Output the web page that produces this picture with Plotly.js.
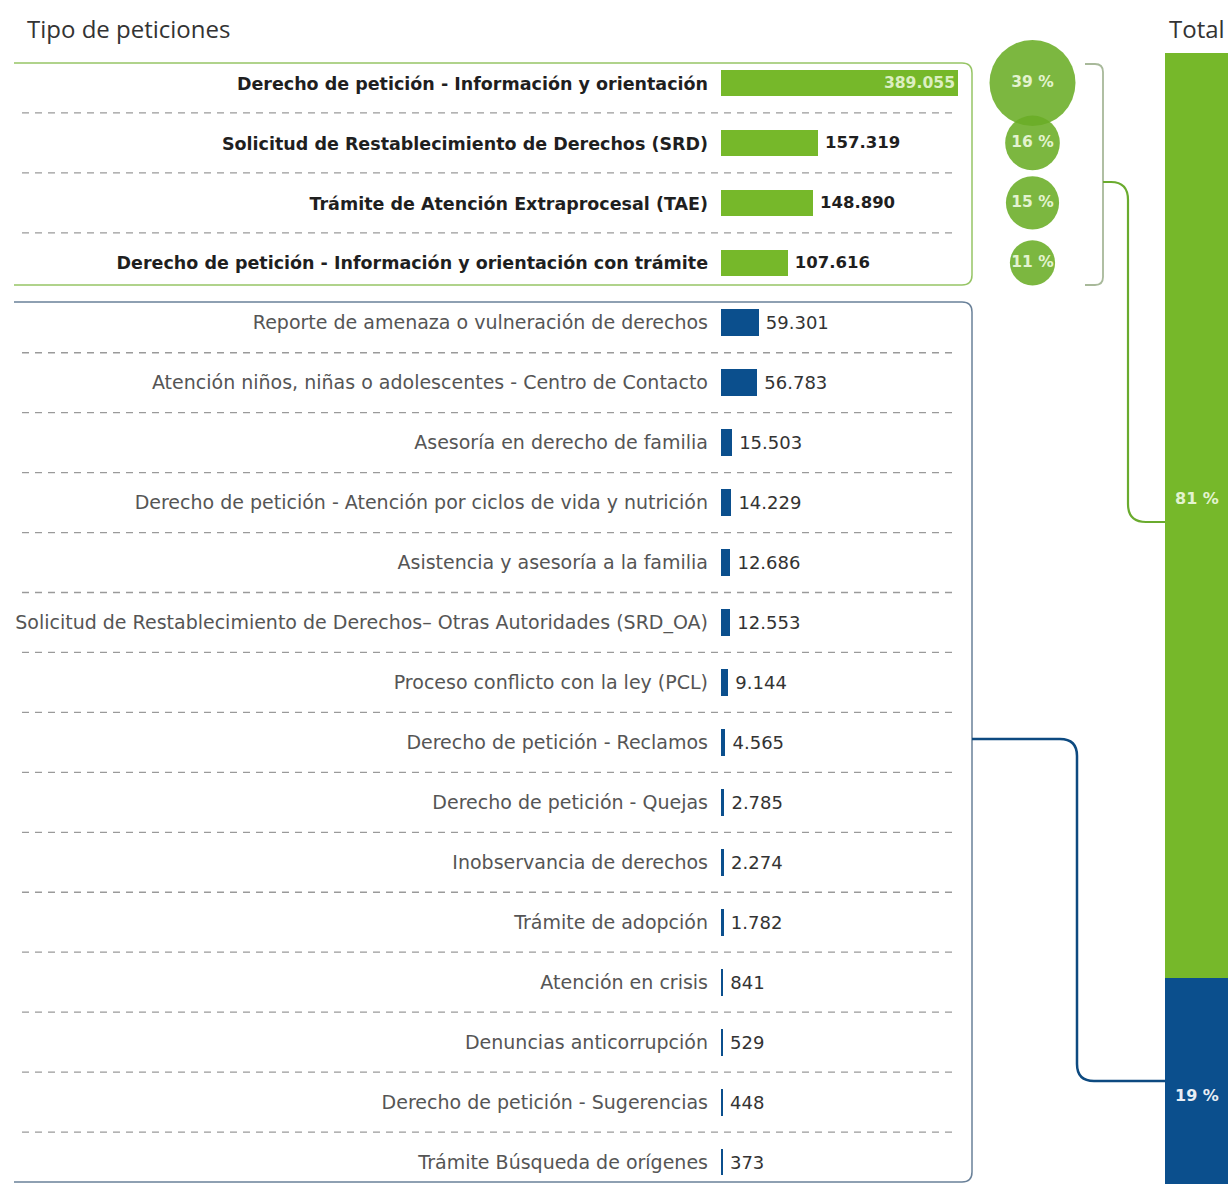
<!DOCTYPE html>
<html>
<head>
<meta charset="utf-8">
<script src="https://cdn.plot.ly/plotly-3.0.1.min.js"></script>
<style>html,body{margin:0;padding:0;background:#fff;}#chart{width:1228px;height:1184px;}</style>
</head>
<body>
<div id="chart"></div>
<script>
// ---- data ----
const greenCategories = [
  "Derecho de petición - Información y orientación",
  "Solicitud de Restablecimiento de Derechos (SRD)",
  "Trámite de Atención Extraprocesal (TAE)",
  "Derecho de petición - Información y orientación con trámite"
];
const greenValues = [389055, 157319, 148890, 107616];

const blueCategories = [
  "Reporte de amenaza o vulneración de derechos",
  "Atención niños, niñas o adolescentes - Centro de Contacto",
  "Asesoría en derecho de familia",
  "Derecho de petición - Atención por ciclos de vida y nutrición",
  "Asistencia y asesoría a la familia",
  "Solicitud de Restablecimiento de Derechos– Otras Autoridades (SRD_OA)",
  "Proceso conflicto con la ley (PCL)",
  "Derecho de petición - Reclamos",
  "Derecho de petición - Quejas",
  "Inobservancia de derechos",
  "Trámite de adopción",
  "Atención en crisis",
  "Denuncias anticorrupción",
  "Derecho de petición - Sugerencias",
  "Trámite Búsqueda de orígenes"
];
const blueValues = [59301, 56783, 15503, 14229, 12686, 12553, 9144, 4565, 2785, 2274, 1782, 841, 529, 448, 373];

const totalLabel = ["Total"];

// ---- derived ----
const GREEN = "#76b82a", BLUE = "#0b4f8d";
const LABEL_FONT = "'DejaVu Sans', Inter, sans-serif";
const W = 1228, H = 1184;
const px = x => x / W, py = y => 1 - y / H;
const allCats = greenCategories.concat(blueCategories);
const greenSum = greenValues.reduce((a, b) => a + b, 0);
const blueSum = blueValues.reduce((a, b) => a + b, 0);
const grandTotal = greenSum + blueSum;
const pct = v => Math.round(v / grandTotal * 100) + " %";
const nRows = allCats.length;

// y axis: row centers at 83 .. 1162 px
const rowStep = (1162 - 83) / (nRows - 1);
const yTop = 53;
const yRange = [nRows - 1 + (H - 1162) / rowStep, -0.5];

const tickText = allCats.map((c, i) => i < greenCategories.length
  ? '<b><span style="color:#1f1f1f;font-size:17.5px">' + c + '</span></b>'
  : '<span style="color:#555">' + c + '</span>');

const maxV = Math.max(...greenValues);

const traces = [
  {
    type: "bar", orientation: "h", x: greenValues, y: greenCategories,
    xaxis: "x", yaxis: "y",
    marker: { color: GREEN, line: { color: GREEN, width: 2 } },
    texttemplate: greenValues.map((v, i) => i === 0 ? "<b>%{x:,}</b>" : "\u00a0<b>%{x:,}</b>"),
    textposition: greenValues.map((v, i) => i === 0 ? "inside" : "outside"),
    insidetextanchor: "end",
    textfont: { family: LABEL_FONT, size: 16.5, color: greenValues.map((v, i) => i === 0 ? "#dcefc2" : "#1f1f1f") },
    cliponaxis: false, hoverinfo: "skip", showlegend: false
  },
  {
    type: "bar", orientation: "h", x: blueValues, y: blueCategories,
    xaxis: "x", yaxis: "y",
    marker: { color: BLUE, line: { color: BLUE, width: 3 } },
    texttemplate: "\u00a0%{x:,}",
    textposition: "outside",
    textfont: { family: LABEL_FONT, size: 18, color: "#333" },
    cliponaxis: false, hoverinfo: "skip", showlegend: false
  },
  {
    type: "scatter", mode: "markers+text",
    x: greenValues.map(() => "%"), y: greenCategories,
    xaxis: "x2", yaxis: "y",
    marker: {
      size: greenValues, sizemode: "area",
      sizeref: 2 * maxV / (86 * 86),
      color: "#6aad25", opacity: 0.88, line: { width: 0 }
    },
    text: greenValues.map(pct),
    textposition: "middle center",
    textfont: { family: LABEL_FONT, size: 15.5, color: "#e3f3cf", weight: 700 },
    cliponaxis: false, hoverinfo: "skip", showlegend: false
  },
  {
    type: "bar", x: totalLabel, y: [greenSum], xaxis: "x3", yaxis: "y3",
    marker: { color: GREEN }, width: 1, hoverinfo: "skip", showlegend: false
  },
  {
    type: "bar", x: totalLabel, y: [blueSum], xaxis: "x3", yaxis: "y3",
    marker: { color: BLUE }, width: 1, hoverinfo: "skip", showlegend: false
  }
];

// separators
const shapes = [];
for (let k = 0; k < nRows - 1; k++) {
  if (k === greenCategories.length - 1) continue;
  shapes.push({
    type: "line", xref: "paper", yref: "y",
    x0: px(22), x1: px(952), y0: k + 0.5, y1: k + 0.5,
    line: { color: "#9a9a9a", width: 1.3, dash: "7px,6px" }
  });
}
const P = (x, y) => px(x) + "," + py(y);
// green box
shapes.push({ type: "path", xref: "paper", yref: "paper",
  path: "M" + P(14, 63) + " L" + P(962, 63) + " Q" + P(972, 63) + " " + P(972, 73) +
        " L" + P(972, 275) + " Q" + P(972, 285) + " " + P(962, 285) + " L" + P(14, 285),
  line: { color: "#97c566", width: 1.5 } });
// blue box
shapes.push({ type: "path", xref: "paper", yref: "paper",
  path: "M" + P(14, 302) + " L" + P(962, 302) + " Q" + P(972, 302) + " " + P(972, 312) +
        " L" + P(972, 1172) + " Q" + P(972, 1182) + " " + P(962, 1182) + " L" + P(14, 1182),
  line: { color: "#6a8199", width: 1.5 } });
// green bracket
shapes.push({ type: "path", xref: "paper", yref: "paper",
  path: "M" + P(1085, 64) + " L" + P(1095, 64) + " Q" + P(1103, 64) + " " + P(1103, 72) +
        " L" + P(1103, 277) + " Q" + P(1103, 285) + " " + P(1095, 285) + " L" + P(1085, 285),
  line: { color: "#a8b99a", width: 1.8 } });
shapes.push({ type: "path", xref: "paper", yref: "paper",
  path: "M" + P(1103, 182) + " L" + P(1111, 182) + " Q" + P(1128, 182) + " " + P(1128, 200) +
        " L" + P(1128, 504) + " Q" + P(1128, 522) + " " + P(1146, 522) + " L" + P(1165, 522),
  line: { color: "#6aab2e", width: 2.2 } });
// blue connector
shapes.push({ type: "path", xref: "paper", yref: "paper",
  path: "M" + P(972, 739) + " L" + P(1060, 739) + " Q" + P(1077, 739) + " " + P(1077, 756) +
        " L" + P(1077, 1064) + " Q" + P(1077, 1081) + " " + P(1094, 1081) + " L" + P(1165, 1081),
  line: { color: "#0d4a80", width: 2.5 } });

const annotations = [
  { xref: "paper", yref: "paper", x: px(25), y: py(28), xanchor: "left", yanchor: "middle",
    text: "Tipo de peticiones", showarrow: false,
    font: { family: "'Open Sans', sans-serif", size: 24, color: "#333" } },
  { xref: "paper", yref: "paper", x: px(1227), y: py(28), xanchor: "right", yanchor: "middle",
    text: "Total", showarrow: false,
    font: { family: "'Open Sans', sans-serif", size: 24, color: "#333" } },
  { xref: "x3", yref: "y3", x: totalLabel[0], y: greenSum / 2 - 15000, showarrow: false,
    text: "<b>" + pct(greenSum) + "</b>",
    font: { family: LABEL_FONT, size: 16, color: "#e3f3cf" } },
  { xref: "x3", yref: "y3", x: totalLabel[0], y: greenSum + blueSum / 2 + 5000, showarrow: false,
    text: "<b>" + pct(blueSum) + "</b>",
    font: { family: LABEL_FONT, size: 16, color: "#e8eef5" } }
];

// total bar y-range: green segment spans 53 -> 978 px, reversed axis from top 53
const pxPerUnit = (978 - yTop) / greenSum;
const y3Range = [(H - yTop) / pxPerUnit, 0];

const layout = {
  width: W, height: H,
  margin: { l: 0, r: 0, t: 0, b: 0 },
  paper_bgcolor: "#fff", plot_bgcolor: "rgba(0,0,0,0)",
  separators: ",.",
  barmode: "stack", bargap: 0.6,
  font: { family: LABEL_FONT },
  xaxis: { domain: [px(721), px(958)], range: [0, maxV], visible: false, fixedrange: true },
  yaxis: {
    domain: [0, py(yTop)], range: yRange, type: "category",
    categoryorder: "array", categoryarray: allCats,
    tickmode: "array", tickvals: allCats, ticktext: tickText,
    showgrid: false, zeroline: false, showline: false, ticks: "",
    ticklabelstandoff: 12,
    tickfont: { family: LABEL_FONT, size: 19, color: "#555" },
    fixedrange: true
  },
  xaxis2: { domain: [px(990), px(1075)], type: "category", range: [-0.5, 0.5], visible: false, anchor: "y" },
  xaxis3: { domain: [px(1165), 1], type: "category", range: [-0.5, 0.5], visible: false, anchor: "y3" },
  yaxis3: { domain: [0, py(yTop)], range: y3Range, visible: false, anchor: "x3" },
  shapes: shapes,
  annotations: annotations
};

Plotly.newPlot("chart", traces, layout, { displayModeBar: false, staticPlot: true });
</script>
</body>
</html>
